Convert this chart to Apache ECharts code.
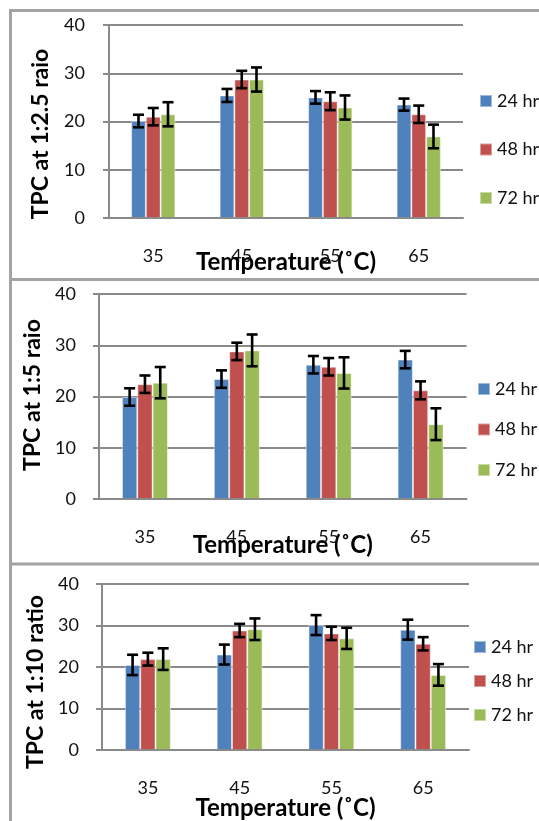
<!DOCTYPE html>
<html>
<head>
<meta charset="utf-8">
<script src="https://cdn.jsdelivr.net/npm/echarts@6/dist/echarts.min.js"></script>
<style>
  html, body { margin: 0; padding: 0; background: #fff; }
  #chart { width: 539px; height: 821px; }
</style>
</head>
<body>
<div id="chart"></div>
<script>
// Temperatures (°C) on the category axis
const categories = ['35', '45', '55', '65'];
const seriesNames = ['24 hr', '48 hr', '72 hr'];
const yTicks = [0, 10, 20, 30, 40];

// Panel A: TPC at 1:2.5 ratio
const tpc25_24 = [20.1, 25.4, 25.0, 23.5];
const tpc25_48 = [21.0, 28.7, 24.2, 21.5];
const tpc25_72 = [21.5, 28.7, 22.9, 16.9];
const err25_24 = [1.3, 1.35, 1.3, 1.25];
const err25_48 = [1.8, 1.8, 1.85, 1.8];
const err25_72 = [2.5, 2.5, 2.5, 2.45];

// Panel B: TPC at 1:5 ratio
const tpc5_24 = [19.9, 23.4, 26.2, 27.2];
const tpc5_48 = [22.4, 28.8, 25.8, 21.2];
const tpc5_72 = [22.7, 29.0, 24.6, 14.6];
const err5_24 = [1.7, 1.7, 1.7, 1.7];
const err5_48 = [1.7, 1.7, 1.7, 1.75];
const err5_72 = [3.05, 3.1, 3.05, 3.1];

// Panel C: TPC at 1:10 ratio
const tpc10_24 = [20.5, 23.0, 30.1, 29.0];
const tpc10_48 = [21.9, 28.8, 28.1, 25.6];
const tpc10_72 = [21.9, 29.1, 26.9, 18.1];
const err10_24 = [2.45, 2.4, 2.4, 2.4];
const err10_48 = [1.55, 1.6, 1.6, 1.6];
const err10_72 = [2.6, 2.6, 2.55, 2.6];

const yTitles = ['TPC at 1:2.5 raio', 'TPC at 1:5 raio', 'TPC at 1:10 ratio'];
const xTitle = 'Temperature (\u02DAC)';

const panels = [
  { values: [tpc25_24, tpc25_48, tpc25_72], errors: [err25_24, err25_48, err25_72] },
  { values: [tpc5_24, tpc5_48, tpc5_72], errors: [err5_24, err5_48, err5_72] },
  { values: [tpc10_24, tpc10_48, tpc10_72], errors: [err10_24, err10_48, err10_72] }
];

const colors = ['#4f81bd', '#c0504d', '#9bbb59'];
const FONT = 'Lato, "Open Sans", sans-serif';
const GRID_GRAY = '#8a8a8a';

// Layout for each stacked panel
const layout = [
  { grid: { left: 109, top: 25, width: 354, height: 193 }, nameGap: 32, labelMargin: 24,
    legend: { left: 474, top: 87, itemGap: 30.5 }, yTitle: [41, 134] },
  { grid: { left: 99, top: 294, width: 367.5, height: 205 }, nameGap: 34, labelMargin: 23,
    legend: { left: 472, top: 375, itemGap: 22.5 }, yTitle: [33, 395] },
  { grid: { left: 102, top: 584, width: 367, height: 168 }, nameGap: 46, labelMargin: 23,
    legend: { left: 468, top: 633, itemGap: 16 }, yTitle: [36, 682] }
];

// Error bar drawn beside its bar: slot 0..2 within the category group
function errorBarRenderer(slot) {
  return function (params, api) {
    const cat = api.value(0);
    const v = api.value(1);
    const e = api.value(2);
    const band = api.size([1, 0])[0];
    const bw = band * 0.5 / 3;
    const cx = api.coord([cat, v])[0] + (slot - 1) * bw;
    const yTop = api.coord([cat, v + e])[1];
    const yBot = api.coord([cat, v - e])[1];
    const half = 5.5;
    const style = { stroke: '#000', lineWidth: 2.6 };
    return {
      type: 'group',
      children: [
        { type: 'line', shape: { x1: cx, y1: yTop, x2: cx, y2: yBot }, style: style },
        { type: 'line', shape: { x1: cx - half, y1: yTop, x2: cx + half, y2: yTop }, style: style },
        { type: 'line', shape: { x1: cx - half, y1: yBot, x2: cx + half, y2: yBot }, style: style }
      ]
    };
  };
}

const grids = [], xAxes = [], yAxes = [], series = [], legends = [], graphics = [];

layout.forEach(function (L, p) {
  grids.push(Object.assign({ containLabel: false }, L.grid));
  xAxes.push({
    type: 'category',
    gridIndex: p,
    data: categories,
    name: xTitle,
    nameLocation: 'middle',
    nameGap: L.nameGap,
    nameMoveOverlap: false,
    nameTextStyle: { fontFamily: FONT, fontSize: 24, fontWeight: 'bold', color: '#000' },
    axisLine: { show: true, lineStyle: { color: GRID_GRAY, width: 2 } },
    axisTick: { show: false },
    axisLabel: { fontFamily: FONT, fontSize: 18, color: '#111', margin: 29 },
    splitLine: { show: false },
    z: 3
  });
  yAxes.push({
    type: 'value',
    gridIndex: p,
    min: yTicks[0],
    max: yTicks[yTicks.length - 1],
    interval: 10,
    axisLine: { show: true, lineStyle: { color: GRID_GRAY, width: 2 } },
    axisTick: { show: true, length: 6, lineStyle: { color: GRID_GRAY, width: 2 } },
    axisLabel: { fontFamily: FONT, fontSize: 18, color: '#111', margin: L.labelMargin },
    splitLine: { show: true, lineStyle: { color: GRID_GRAY, width: 2 } }
  });

  const P = panels[p];
  seriesNames.forEach(function (name, s) {
    series.push({
      type: 'bar',
      name: name,
      xAxisIndex: p,
      yAxisIndex: p,
      data: P.values[s],
      barGap: '0%',
      barCategoryGap: '50%',
      itemStyle: { color: colors[s], borderColor: 'rgba(255,255,255,0.45)', borderWidth: 1 },
      z: 2
    });
  });
  seriesNames.forEach(function (name, s) {
    series.push({
      type: 'custom',
      name: name,
      xAxisIndex: p,
      yAxisIndex: p,
      renderItem: errorBarRenderer(s),
      data: P.values[s].map(function (v, i) { return [i, v, P.errors[s][i]]; }),
      encode: { x: 0, y: 1 },
      z: 5,
      silent: true
    });
  });

  legends.push({
    orient: 'vertical',
    left: L.legend.left,
    top: L.legend.top,
    itemGap: L.legend.itemGap,
    itemWidth: 12,
    itemHeight: 12,
    icon: 'rect',
    data: seriesNames,
    textStyle: { fontFamily: FONT, fontSize: 18, color: '#111' }
  });

  graphics.push({
    type: 'text',
    x: L.yTitle[0],
    y: L.yTitle[1],
    rotation: Math.PI / 2,
    style: {
      text: yTitles[p],
      fontFamily: FONT,
      fontSize: 23,
      fontWeight: 'bold',
      fill: '#000',
      textAlign: 'center',
      textVerticalAlign: 'middle'
    },
    z: 10
  });
});

// Panel frames
const FRAME = '#a3a3a3';
[10.5, 279.5, 564].forEach(function (y) {
  graphics.push({ type: 'line', shape: { x1: 9, y1: y, x2: 539, y2: y }, style: { stroke: FRAME, lineWidth: 3 }, z: 1 });
});
graphics.push({ type: 'line', shape: { x1: 10.5, y1: 9, x2: 10.5, y2: 821 }, style: { stroke: FRAME, lineWidth: 3 }, z: 1 });

const chart = echarts.init(document.getElementById('chart'), null, { renderer: 'canvas' });
chart.setOption({
  animation: false,
  color: colors,
  grid: grids,
  xAxis: xAxes,
  yAxis: yAxes,
  legend: legends,
  series: series,
  graphic: graphics
});
</script>
</body>
</html>
